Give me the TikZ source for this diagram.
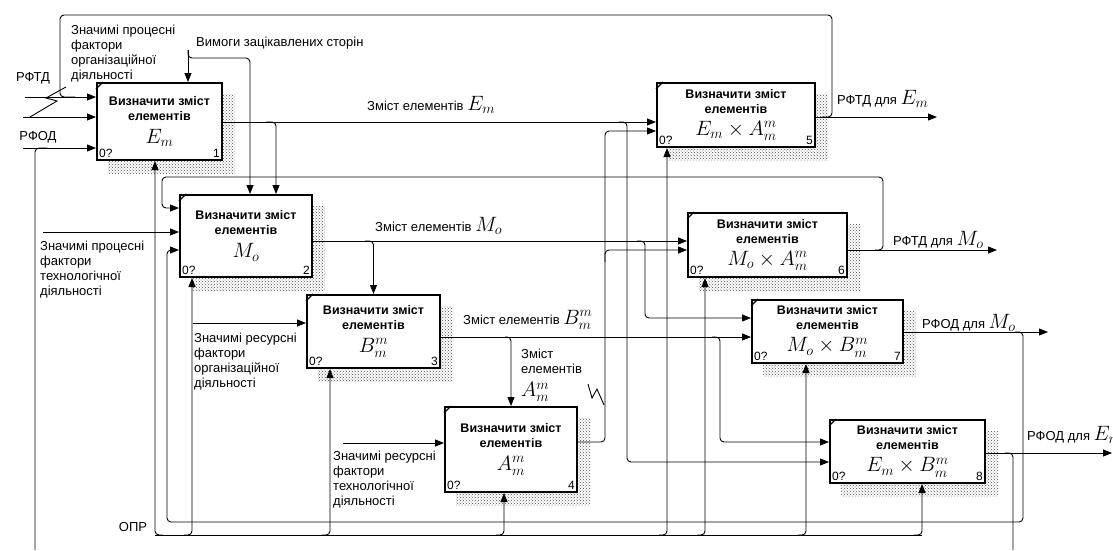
\documentclass[tikz,border=0pt]{standalone}
\usepackage{fontspec}
\setmainfont{Liberation Sans}
\usepackage{tikz}
\usetikzlibrary{arrows.meta, patterns, backgrounds}
\newcommand{\mlab}[1]{{\fontsize{21}{24}\selectfont$#1$}}
\tikzset{
  func/.style={
    rectangle, draw=black, line width=2pt, fill=white,
    align=center, inner sep=2pt,
    font=\fontsize{12.5}{15}\selectfont\bfseries,
  },
  hatch/.style={pattern=crosshatch dots, pattern color=black!70},
  arrow/.style={-{Triangle[length=9pt,width=7pt]}, line width=0.9pt, rounded corners=4pt},
  conn/.style={line width=0.9pt, rounded corners=4pt},
  lbl/.style={font=\fontsize{13}{15}\selectfont, align=left, inner sep=0pt},
  num/.style={font=\fontsize{12}{14}\selectfont, inner sep=3pt},
}

\begin{document}
\begin{tikzpicture}[x=1pt, y=-1pt]
  \useasboundingbox (0,0) rectangle (1113,550);
  \clip (0,0) rectangle (1113,550);

  % function blocks
  \node[func, minimum width=125pt, minimum height=77pt] (b1) at (159.5,121.5) {Визначити зміст\\елементів\\[8pt]\mlab{E_m}};
  \node[func, minimum width=132pt, minimum height=82pt] (b2) at (246,236) {Визначити зміст\\елементів\\[8pt]\mlab{M_o}};
  \node[func, minimum width=133pt, minimum height=73pt] (b3) at (373.5,331.5) {Визначити зміст\\елементів\\[8pt]\mlab{B_m^m}};
  \node[func, minimum width=132pt, minimum height=85pt] (b4) at (511,449.5) {Визначити зміст\\елементів\\[8pt]\mlab{A_m^m}};
  \node[func, minimum width=158pt, minimum height=64pt] (b5) at (736,115) {Визначити зміст\\елементів\\[7pt]\mlab{E_m\times A_m^m}};
  \node[func, minimum width=159pt, minimum height=64pt] (b6) at (767.5,245) {Визначити зміст\\елементів\\[7pt]\mlab{M_o\times A_m^m}};
  \node[func, minimum width=151pt, minimum height=63pt] (b7) at (827.5,331.5) {Визначити зміст\\елементів\\[7pt]\mlab{M_o\times B_m^m}};
  \node[func, minimum width=155pt, minimum height=63pt] (b8) at (907.5,451.5) {Визначити зміст\\елементів\\[7pt]\mlab{E_m\times B_m^m}};

  \begin{scope}[on background layer]
    \foreach \n in {1,...,8}
      \fill[hatch] ([xshift=12pt,yshift=-12pt]b\n.south west) rectangle ([xshift=12pt,yshift=-12pt]b\n.north east);
  \end{scope}

  \foreach \n in {1,...,8} {
    \draw[line width=1.2pt] ([yshift=-7pt]b\n.north west) -- ([xshift=7pt]b\n.north west);
    \node[num, anchor=south west] (z\n) at (b\n.south west) {0?};
    \node[num, anchor=south east] (k\n) at (b\n.south east) {\n};
  }

  % free ends
  \coordinate (rftd) at (25,97);
  \coordinate (porg) at (23,117);
  \coordinate (rfod) at (23,148);
  \coordinate (vymogy) at (188,50);
  \coordinate (ptech) at (43,232);
  \coordinate (rorg) at (193,323);
  \coordinate (rtech) at (343,443);
  \coordinate (opr) at (155,535);
  \coordinate (out5) at (937,117);
  \coordinate (out6) at (997,250);
  \coordinate (out7) at (1048,332);
  \coordinate (out8) at (1112,453);

  % boundary labels
  \node[lbl] (lrftd) at (33,78) {РФТД};
  \node[lbl, anchor=north west] (lporg) at (71,25) {Значимі процесні\\фактори\\організаційної\\діяльності};
  \node[lbl] (lrfod) at (38,137) {РФОД};
  \node[lbl, anchor=west] (lvym) at (196,43) {Вимоги зацікавлених сторін};
  \node[lbl, anchor=north west] (lptech) at (40,241) {Значимі процесні\\фактори\\технологічної\\діяльності};
  \node[lbl, anchor=north west] (lrorg) at (194,333) {Значимі ресурсні\\фактори\\організаційної\\діяльності};
  \node[lbl, anchor=north west] (lrtech) at (333,451) {Значимі ресурсні\\фактори\\технологічної\\діяльності};
  \node[lbl] (lopr) at (133,527) {ОПР};

  % arrow labels
  \node[lbl, anchor=base west] (le) at (367,110) {Зміст елементів \mlab{E_m}};
  \node[lbl, anchor=base west] (lm) at (375,231) {Зміст елементів \mlab{M_o}};
  \node[lbl, anchor=base west] (lb) at (463,324) {Зміст елементів \mlab{B_m^m}};
  \node[lbl, anchor=north west] (la) at (521,349) {Зміст\\елементів\\[8pt]\mlab{A_m^m}};
  \node[lbl, anchor=base west] (l5) at (837,104) {РФТД для \mlab{E_m}};
  \node[lbl, anchor=base west] (l6) at (893,245) {РФТД для \mlab{M_o}};
  \node[lbl, anchor=base west] (l7) at (922,328) {РФОД для \mlab{M_o}};
  \node[lbl, anchor=base west] (l8) at (1027,440) {РФОД для \mlab{E_m}};

  % inputs of block 1
  \draw[arrow] (rftd) -- (b1.west |- rftd);
  \draw[arrow] (porg) -- (b1.west |- porg);
  \draw[arrow] (rfod) -- (b1.west |- rfod);
  \draw[conn, rounded corners=0pt] (30,117) -- (57,101) -- (46,98) -- (66,87);
  \draw[conn] (35,550) |- (47,148);

  % controls
  \draw[arrow] (vymogy) -- (b1.north -| vymogy);
  \draw[arrow] (vymogy) |- (250,58) -- (b2.north -| 250,0);
  \draw[arrow] (b1.east |- 0,122) -- (b5.west |- 0,122);
  \draw[arrow] (266,122) -| (b2.north -| 276,0);
  \draw[arrow] (619,122) -| (627,462) -- (b8.west |- 0,462);

  % block 2
  \draw[arrow] (ptech) -- (b2.west |- ptech);
  \draw[arrow] (b2.east |- 0,241) -- (b6.west |- 0,241);
  \draw[arrow] (365,241) -| (b3.north);
  \draw[arrow] (637,241) -| (645,318) -- (b7.west |- 0,318);

  % block 3
  \draw[arrow] (rorg) -- (b3.west |- rorg);
  \draw[arrow] (b3.east |- 0,337) -- (b7.west |- 0,337);
  \draw[arrow] (505,337) -| (b4.north);
  \draw[arrow] (712,337) -| (720,442) -- (b8.west |- 0,442);

  % block 4
  \draw[arrow] (rtech) -- (b4.west |- rtech);
  \draw[arrow] (b4.east |- 0,442) -| (605,131) -- (b5.west |- 0,131);
  \draw[arrow] (605,262) |- (b6.west |- 0,250);
  \draw[conn, rounded corners=0pt] (588,384) -- (592,398) -- (597,389) -- (604,405);

  % outputs and feedback
  \draw[arrow] (b5.east |- 0,117) -- (out5);
  \draw[conn] (822,117) -| (832,15) -| (60,97) -- (75,97);
  \draw[arrow] (b6.east |- 0,250) -- (out6);
  \draw[arrow] (875,250) -| (883,177) -| (162,208) -- (b2.west |- 0,208);
  \draw[arrow] (b7.east |- 0,332) -- (out7);
  \draw[arrow] (1015,332) -| (1023,522) -| (167,250) -- (b2.west |- 0,250);
  \draw[arrow] (b8.east |- 0,453) -- (out8);
  \draw[conn] (1005,453) -| (1013,550);

  % mechanisms
  \draw[conn] (opr) -- (922,535);
  \draw[arrow] (163,535) -| (b1.south -| opr);
  \foreach \n/\x in {2/192, 3/330, 4/504, 5/667, 6/705, 7/806, 8/922}
    \draw[arrow] (\x-8,535) -| (b\n.south -| \x,0);

\end{tikzpicture}
\end{document}
